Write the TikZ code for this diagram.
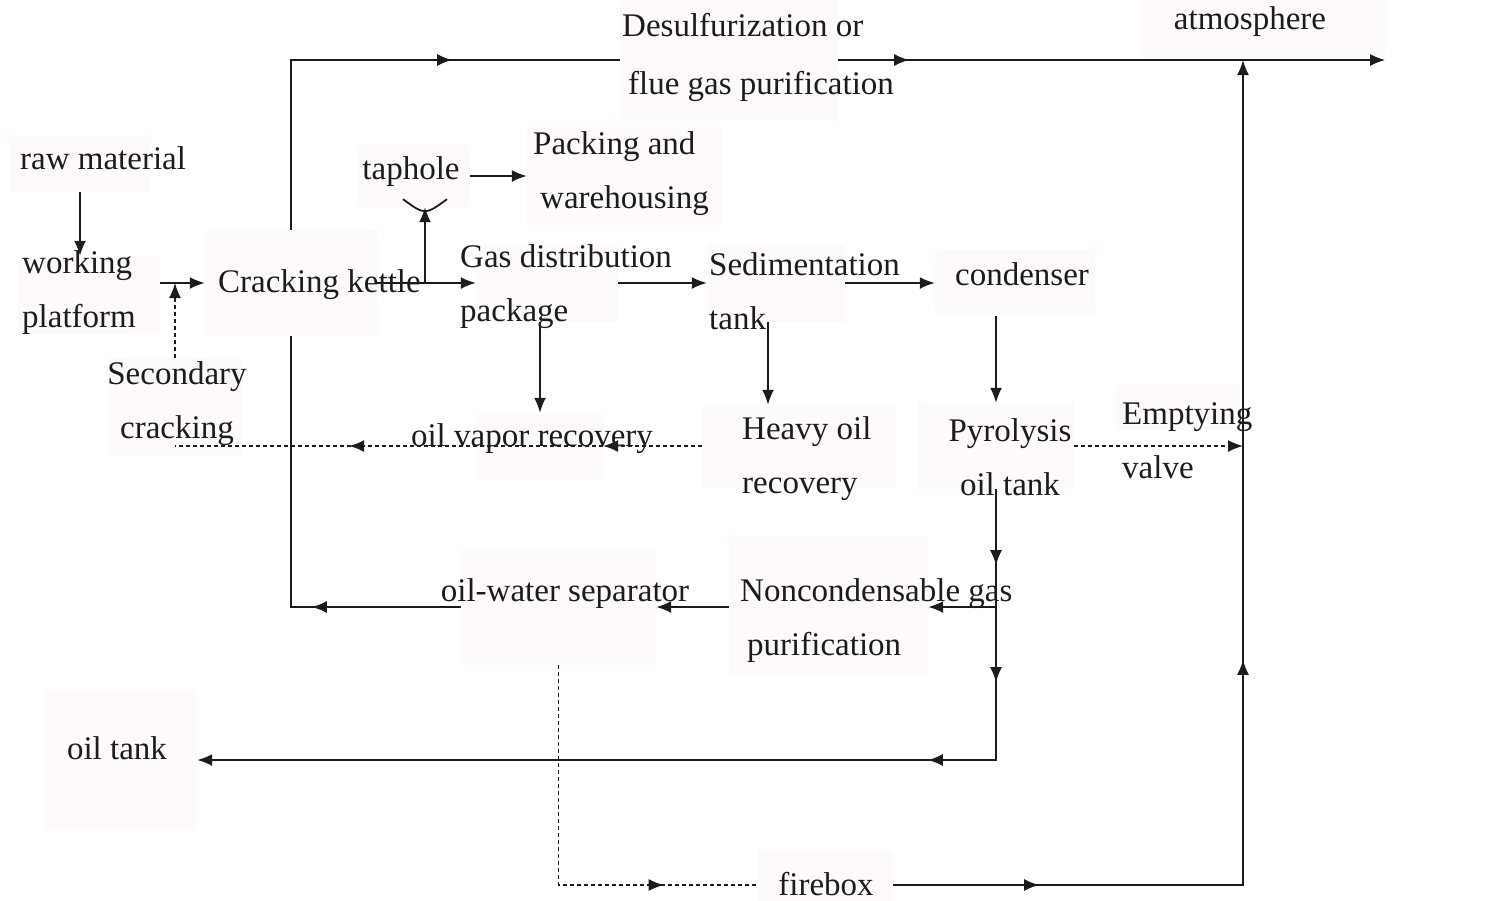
\documentclass[tikz,border=0pt]{standalone}
\usepackage{fontspec}
\setmainfont{Liberation Serif}
\usepackage{tikz}
\usetikzlibrary{arrows.meta, positioning, calc, fit, decorations.markings}
\definecolor{ink}{RGB}{28,28,28}
\definecolor{boxtint}{RGB}{253,250,249}

\tikzset{
  bg/.style={fill=boxtint, draw=none, inner sep=0pt},
  lbl/.style={text=ink, font=\fontsize{33}{54}\selectfont, inner sep=0pt},
  wire/.style={draw=ink, line width=1.8pt},
  flow/.style={wire, -{Latex[length=15pt,width=12pt]}},
  dotwire/.style={draw=ink, line width=1.5pt, dash pattern=on 4pt off 3pt},
  dotflow/.style={dotwire, -{Latex[length=15pt,width=12pt]}},
  midarrow/.style={postaction={decorate, decoration={markings,
      mark=at position #1 with {\arrow{Latex[length=15pt,width=12pt]}}}}},
}

\begin{document}
\begin{tikzpicture}[x=1pt, y=-1pt]
  \useasboundingbox (0,0) rectangle (1488,900);

  % faint boxes behind the labels
  \node[bg, fit={(10,137)(150,192)}] (rawbox) {};
  \node[bg, fit={(18,256)(160,334)}] (workbox) {};
  \node[bg, fit={(205,230)(377,336)}] (crackbox) {};
  \node[bg, fit={(108,358)(242,456)}] (secbox) {};
  \node[bg, fit={(620,0)(838,120)}] (desulfbox) {};
  \node[bg, fit={(1140,0)(1385,58)}] (atmbox) {};
  \node[bg, fit={(358,145)(470,207)}] (tapbox) {};
  \node[bg, fit={(527,127)(722,225)}] (packbox) {};
  \node[bg, fit={(476,244)(618,322)}] (gasbox) {};
  \node[bg, fit={(707,244)(845,322)}] (sedbox) {};
  \node[bg, fit={(935,250)(1095,316)}] (condbox) {};
  \node[bg, fit={(918,403)(1074,489)}] (pyrobox) {};
  \node[bg, fit={(1115,385)(1240,430)}] (valvebox) {};
  \node[bg, fit={(702,405)(895,487)}] (heavybox) {};
  \node[bg, fit={(477,413)(603,479)}] (vaporbox) {};
  \node[bg, fit={(461,549)(656,665)}] (sepbox) {};
  \node[bg, fit={(729,537)(928,677)}] (noncondbox) {};
  \node[bg, fit={(45,690)(197,830)}] (oiltankbox) {};
  \node[bg, fit={(758,850)(893,920)}] (firebox) {};

  % labels
  \node[lbl, anchor=west] (raw) at (20,158) {raw material};
  \node[lbl, anchor=west, align=left] (work) at (22,293) {working\\platform};
  \node[lbl, anchor=west] (crack) at (218,285) {Cracking kettle};
  \node[lbl, align=center] (sec) at (177,404) {Secondary\\cracking};
  \node[lbl, anchor=west, align=left] (desulf) at (622,57) {Desulfurization or\\[4pt]\hspace*{6pt}flue gas purification};
  \node[lbl] (atm) at (1250,22) {atmosphere};
  \node[lbl] (tap) at (411,172) {taphole};
  \node[lbl, anchor=west, align=left] (pack) at (533,174) {Packing and\\\hspace*{7pt}warehousing};
  \node[lbl, anchor=west, align=left] (gas) at (460,287) {Gas distribution\\package};
  \node[lbl, anchor=west, align=left] (sed) at (709,291) {Sedimentation\\tank};
  \node[lbl] (cond) at (1022,274) {condenser};
  \node[lbl, align=center] (pyro) at (1010,457) {Pyrolysis\\oil tank};
  \node[lbl, anchor=west, align=left] (valve) at (1122,441) {Emptying\\valve};
  \node[lbl, anchor=west, align=left] (heavy) at (742,459) {Heavy oil\\recovery};
  \node[lbl] (vapor) at (532,439) {oil vapor recovery};
  \node[lbl] (sep) at (565,594) {oil-water separator};
  \node[lbl, anchor=west, align=left] (noncond) at (740,621) {Noncondensable gas\\\hspace*{7pt}purification};
  \node[lbl] (oiltank) at (117,748) {oil tank};
  \node[lbl] (fire) at (826,884) {firebox};

  % feed side
  \draw[flow] (rawbox.south) -- (rawbox.south |- workbox.north);
  \draw[flow] (workbox.east |- crackbox.west) -- (crackbox.west);
  \draw[dotflow] (secbox.north) -- (secbox.north |- crackbox.west);

  % flue gas to atmosphere
  \coordinate (vent) at (1243,60);
  \draw[wire, midarrow=331pt] (crackbox.north) |- (desulfbox.west);
  \draw[flow, midarrow=71pt] (desulfbox.east) -- (desulfbox.east -| atmbox.east);
  \draw[flow, midarrow=146pt, midarrow=575pt] (firebox.east) -| (vent);
  \draw[dotflow] (pyrobox.east) -- (pyrobox.east -| vent);

  % cracking kettle outlet
  \coordinate (fork) at (425,283);
  \coordinate (tapend) at (fork |- tapbox.south);
  \draw[flow] (crackbox.east) -- (gasbox.west);
  \draw[flow] (fork) -- (tapend);
  \draw[wire] ([shift={(-22pt,8pt)}]tapend) .. controls ([yshift=-8pt]tapend) .. ([shift={(22pt,8pt)}]tapend);
  \draw[flow] (tapbox.east) -- (packbox.west);

  % oil vapour line
  \draw[flow] (gasbox.east) -- (sedbox.west);
  \draw[flow] (sedbox.east) -- (condbox.west);
  \draw[flow] (gasbox.south -| vaporbox.north) -- (vaporbox.north);
  \draw[flow] ([xshift=-8pt]sedbox.south) -- ([xshift=-8pt]sedbox.south |- heavybox.north);
  \draw[flow] (condbox.south -| pyrobox.north) -- (pyrobox.north);
  \draw[dotflow] (heavybox.west) -- (vaporbox.east);
  \draw[dotwire, midarrow=254pt] (vaporbox.east) -- (secbox.center |- vaporbox.east);

  % products and gas
  \draw[flow, midarrow=76pt, midarrow=193pt, midarrow=339pt] (pyrobox.south) |- (oiltankbox.east);
  \coordinate (branch) at (pyrobox.south |- noncondbox.east);
  \draw[flow] (branch) -- (noncondbox.east);
  \draw[flow] (noncondbox.west) -- (sepbox.east);
  \draw[wire, midarrow=149pt] (sepbox.west) -| (crackbox.south);
  \draw[dotwire, midarrow=325pt] (sepbox.south) |- (firebox.west);
\end{tikzpicture}
\end{document}
